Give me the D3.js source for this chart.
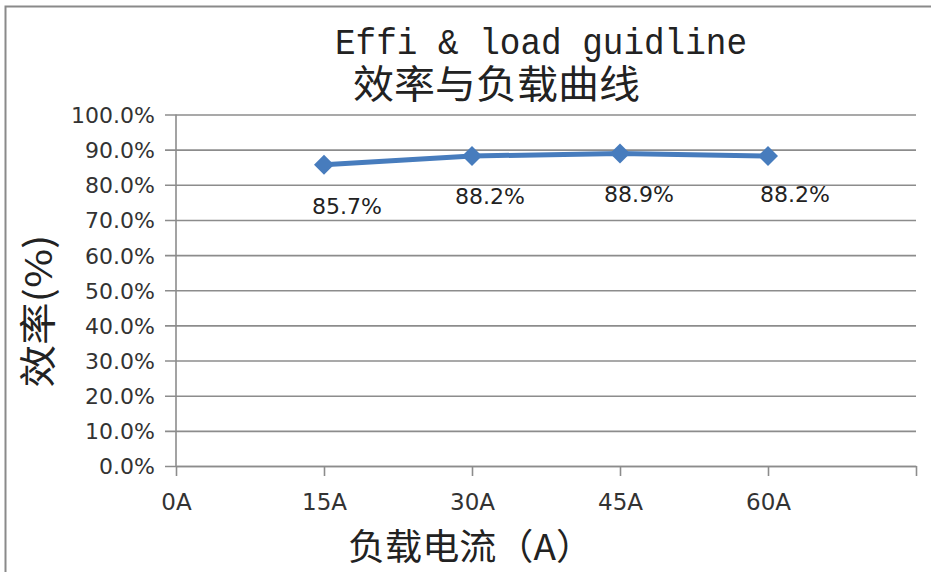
<!DOCTYPE html>
<html lang="zh">
<head>
<meta charset="UTF-8">
<title>Effi & load guidline</title>
<script src="https://d3js.org/d3.v7.min.js"></script>
<style>
  html, body { margin: 0; padding: 0; background: #fff; }
  svg { display: block; }
</style>
</head>
<body>
<div id="chart"></div>
<script>
// données
const loadAmps = [15, 30, 45, 60];
const effi = [0.857, 0.882, 0.889, 0.882];
const effiLabels = ["85.7%", "88.2%", "88.9%", "88.2%"];
const xTicks = [0, 15, 30, 45, 60, 75];
const xTickLabels = ["0A", "15A", "30A", "45A", "60A", ""];
const yTicks = [0, 0.1, 0.2, 0.3, 0.4, 0.5, 0.6, 0.7, 0.8, 0.9, 1.0];

// petits décalages des étiquettes (placées à la main dans l'original)
const labelNudge = [[23, 49], [18, 48], [19, 48], [27, 46]];

const W = 931, H = 572;
const svg = d3.select("#chart").append("svg")
  .attr("width", W).attr("height", H);

svg.append("rect").attr("width", W).attr("height", H).attr("fill", "#fff");

// bout de texte coupé au-dessus du cadre
svg.append("text").attr("x", 226).attr("y", -9)
  .attr("font-family", "DejaVu Sans").attr("font-size", 30)
  .attr("fill", "#111").text("g");

// cadre du graphique (coupé à droite et en bas)
svg.append("path")
  .attr("d", "M5.5," + H + "V6.5H" + W)
  .attr("fill", "none").attr("stroke", "#8a8a8a").attr("stroke-width", 2);

const x = d3.scaleLinear().domain([0, 75]).range([176, 916]);
const y = d3.scaleLinear().domain([0, 1]).range([466, 114.5]);

// grille horizontale + axe Y
const yAxis = d3.axisLeft(y).tickValues(yTicks)
  .tickSize(-(x.range()[1] - x.range()[0]) - 11)
  .tickFormat(d3.format(".1%"));
const gy = svg.append("g").attr("transform", "translate(" + (x.range()[0] - 11) + ",0)")
  .call(yAxis);
gy.select(".domain").remove();
gy.selectAll(".tick line").attr("stroke", "#8c8c8c").attr("stroke-width", 1.6);
gy.selectAll(".tick text")
  .attr("x", -10).attr("dy", "0.36em")
  .attr("font-family", "DejaVu Sans").attr("font-size", 22).attr("fill", "#333");

svg.append("line")
  .attr("x1", x(0)).attr("x2", x(0)).attr("y1", y(1)).attr("y2", y(0))
  .attr("stroke", "#8c8c8c").attr("stroke-width", 1.6);

// axe X
const xAxis = d3.axisBottom(x).tickValues(xTicks).tickSize(10).tickSizeOuter(0)
  .tickFormat((d, i) => xTickLabels[i]);
const gx = svg.append("g").attr("transform", "translate(0," + y(0) + ")").call(xAxis);
gx.select(".domain").attr("stroke", "#8c8c8c").attr("stroke-width", 1.6);
gx.selectAll(".tick line").attr("stroke", "#8c8c8c").attr("stroke-width", 1.6);
gx.selectAll(".tick text")
  .attr("y", 28).attr("dy", "0.71em")
  .attr("font-family", "DejaVu Sans").attr("font-size", 23).attr("fill", "#333");

// série
const pts = loadAmps.map((a, i) => [x(a), y(effi[i])]);
svg.append("path")
  .attr("d", d3.line()(pts))
  .attr("fill", "none").attr("stroke", "#477cbd").attr("stroke-width", 5)
  .attr("stroke-linejoin", "round");

svg.selectAll(".mk").data(pts).join("path")
  .attr("class", "mk")
  .attr("transform", d => "translate(" + d[0] + "," + d[1] + ")")
  .attr("d", "M0,-10L10,0L0,10L-10,0Z")
  .attr("fill", "#477cbd");

svg.selectAll(".lbl").data(pts).join("text")
  .attr("class", "lbl")
  .attr("x", (d, i) => d[0] + labelNudge[i][0])
  .attr("y", (d, i) => d[1] + labelNudge[i][1])
  .attr("text-anchor", "middle")
  .attr("font-family", "DejaVu Sans").attr("font-size", 22).attr("fill", "#222")
  .text((d, i) => effiLabels[i]);

// titres
svg.append("text").attr("x", 335).attr("y", 54)
  .attr("font-family", "Liberation Mono").attr("font-size", 37).attr("fill", "#222")
  .attr("textLength", 412).attr("lengthAdjust", "spacingAndGlyphs")
  .text("Effi & load guidline");
svg.append("text").attr("x", 353).attr("y", 98)
  .attr("font-family", "Noto Sans CJK SC").attr("font-size", 39).attr("fill", "#222")
  .attr("textLength", 287).attr("lengthAdjust", "spacingAndGlyphs")
  .text("效率与负载曲线");

svg.append("text")
  .attr("transform", "translate(52,311) rotate(-90)")
  .attr("text-anchor", "middle")
  .attr("font-family", "Noto Sans CJK SC").attr("font-size", 37).attr("fill", "#222")
  .attr("textLength", 153).attr("lengthAdjust", "spacingAndGlyphs")
  .text("效率(%)");

svg.append("text").attr("x", 348).attr("y", 560)
  .attr("font-family", "Noto Sans CJK SC").attr("font-size", 36).attr("fill", "#222")
  .attr("textLength", 245).attr("lengthAdjust", "spacingAndGlyphs")
  .text("负载电流（A）");
</script>
</body>
</html>
